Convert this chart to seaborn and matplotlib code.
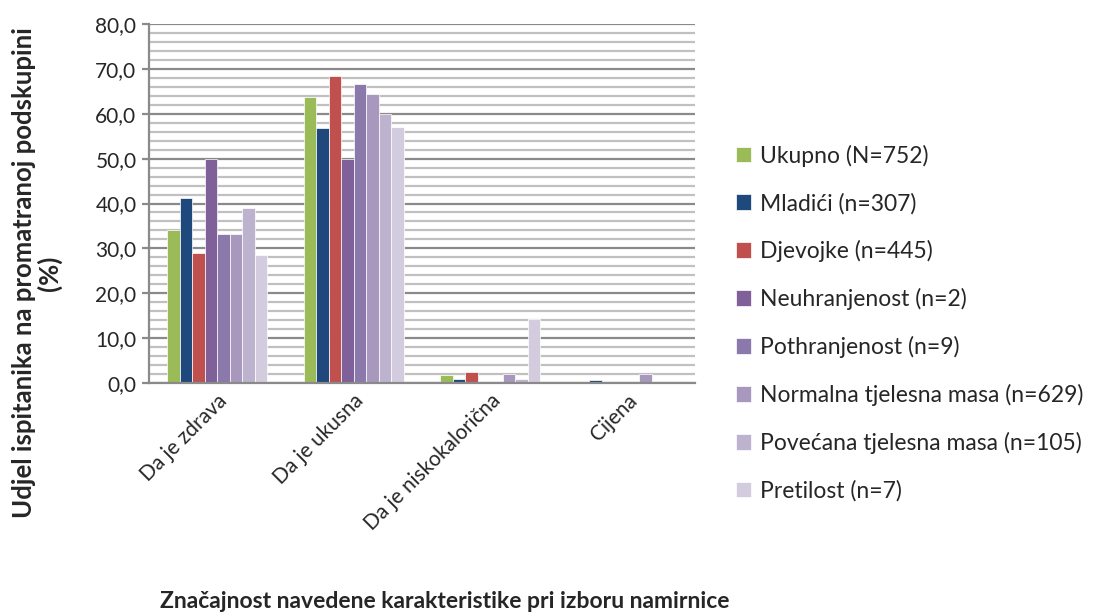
import pandas as pd
import seaborn as sns
import matplotlib.pyplot as plt
from matplotlib.ticker import FuncFormatter, MultipleLocator

# categories and groups
categories = ['Da je zdrava', 'Da je ukusna', 'Da je niskokalorična', 'Cijena']
groups = ['Ukupno (N=752)', 'Mladići (n=307)', 'Djevojke (n=445)',
          'Neuhranjenost (n=2)', 'Pothranjenost (n=9)',
          'Normalna tjelesna masa (n=629)', 'Povećana tjelesna masa (n=105)',
          'Pretilost (n=7)']
colors = ['#9BBB59', '#1F497D', '#C0504D', '#7F6098', '#8C79AB',
          '#A898BE', '#BEB3CE', '#D3CCDF']

# values per group, one per category
ukupno = [34.0, 63.7, 1.8, 0.3]
mladici = [41.3, 56.9, 0.9, 0.7]
djevojke = [28.9, 68.4, 2.4, 0.0]
neuhranjenost = [50.0, 50.0, 0.0, 0.0]
pothranjenost = [33.3, 66.7, 0.0, 0.0]
normalna = [33.1, 64.4, 1.9, 1.9]
povecana = [38.9, 60.0, 1.0, 0.0]
pretilost = [28.6, 57.1, 14.3, 0.0]

series = [ukupno, mladici, djevojke, neuhranjenost, pothranjenost,
          normalna, povecana, pretilost]

rows = []
for g, vals in zip(groups, series):
    for c, v in zip(categories, vals):
        rows.append({'cat': c, 'grp': g, 'val': v})
df = pd.DataFrame(rows)

sns.set_style('white')
plt.rcParams['font.family'] = ['Lato', 'DejaVu Sans']

fig = plt.figure(figsize=(11.13, 6.14), dpi=100)
ax = fig.add_axes([149 / 1113, 1 - 383 / 614, (695 - 149) / 1113,
                   (383 - 24) / 614])

sns.barplot(data=df, x='cat', y='val', hue='grp', palette=colors,
            width=0.73, ax=ax, edgecolor='white', linewidth=0.5,
            saturation=1, legend=True)

ax.set_ylim(0, 80)
ax.set_xlim(-0.5, 3.5)
ax.yaxis.set_major_locator(MultipleLocator(10))
ax.yaxis.set_minor_locator(MultipleLocator(2))
ax.yaxis.set_major_formatter(FuncFormatter(lambda v, p: f'{v:.1f}'.replace('.', ',')))
ax.grid(which='major', axis='y', color='#8A8A8A', linewidth=1.6)
ax.grid(which='minor', axis='y', color='#C0C0C0', linewidth=1.6)
ax.set_axisbelow(True)
for s in ['top', 'right']:
    ax.spines[s].set_visible(False)
for s in ['left', 'bottom']:
    ax.spines[s].set_color('#8A8A8A')
    ax.spines[s].set_linewidth(1.6)
ax.tick_params(axis='y', which='major', left=True, length=5, width=1.6,
               color='#8A8A8A', labelsize=15, pad=4)
ax.tick_params(axis='y', which='minor', left=False)
ax.tick_params(axis='x', bottom=False, labelsize=15, pad=2)
plt.setp(ax.get_xticklabels(), rotation=45, ha='right',
         rotation_mode='anchor')

ax.set_xlabel('')
ax.set_ylabel('')
fig.text(445 / 1113, 1 - 601 / 614,
         'Značajnost navedene karakteristike pri izboru namirnice',
         fontsize=16.5, fontweight='bold', ha='center', va='center')
fig.text(37 / 1113, 1 - 273 / 614,
         'Udjel ispitanika na promatranoj podskupini\n(%)',
         fontsize=18.5, fontweight='bold', ha='center', va='center',
         rotation=90, multialignment='center', linespacing=1.05)

handles, labels = ax.get_legend_handles_labels()
ax.get_legend().remove()
fig.legend(handles, labels, loc='upper left',
           bbox_to_anchor=(715 / 1113, 1 - 124 / 614), frameon=False,
           fontsize=16.5, labelspacing=1.13, handlelength=0.65,
           handleheight=0.65, handletextpad=0.4)

plt.savefig('out.png', dpi=100)
